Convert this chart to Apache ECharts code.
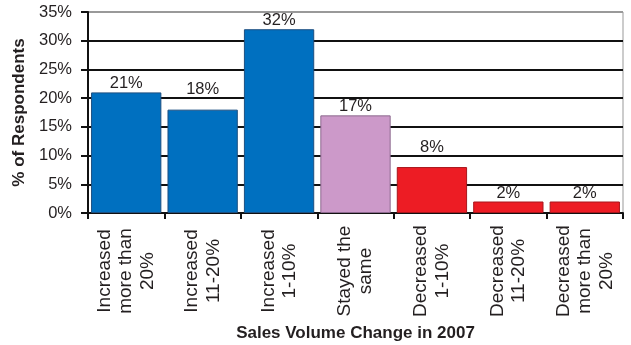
<!DOCTYPE html>
<html>
<head>
<meta charset="utf-8">
<script src="https://cdn.jsdelivr.net/npm/echarts@6/dist/echarts.min.js"></script>
<style>
  html, body { margin: 0; padding: 0; background: #fff; }
  #chart { width: 631px; height: 345px; }
</style>
</head>
<body>
<div id="chart"></div>
<script>
// Survey responses: change in sales volume over 2007
const categories = [
  'Increased\nmore than\n20%',
  'Increased\n11-20%',
  'Increased\n1-10%',
  'Stayed the\nsame',
  'Decreased\n1-10%',
  'Decreased\n11-20%',
  'Decreased\nmore than\n20%'
];
const respondentShare = [21, 18, 32, 17, 8, 2, 2];
// Bar groups: increases, no change, decreases
const barGroup = ['up', 'up', 'up', 'same', 'down', 'down', 'down'];

const groupStyle = {
  up:   { color: '#0070c0', borderColor: '#1d4f80' },
  same: { color: '#cc99c9', borderColor: '#8d6a8f' },
  down: { color: '#ed1c24', borderColor: '#a8161c' }
};

// Value labels that would sit on a gridline are lifted clear of it
const labelLift = { 1: 12, 4: 11 };

const FONT = 'Liberation Sans, Arial, sans-serif';

const chart = echarts.init(document.getElementById('chart'), null, { renderer: 'canvas' });

chart.setOption({
  animation: false,
  backgroundColor: '#fff',
  textStyle: { fontFamily: FONT },
  grid: {
    left: 88, right: 8, top: 12, bottom: 132,
    outerBoundsMode: 'none',
    containLabel: false,
    show: true, borderColor: '#999', borderWidth: 1
  },
  xAxis: {
    type: 'category',
    data: categories,
    name: 'Sales Volume Change in 2007',
    nameLocation: 'middle',
    nameGap: 104,
    nameTextStyle: { fontFamily: FONT, fontSize: 17, fontWeight: 'bold', color: '#231f20' },
    axisLine: { lineStyle: { color: '#111', width: 2 } },
    axisTick: { show: true, length: 6, lineStyle: { color: '#111', width: 2 } },
    axisLabel: {
      interval: 0,
      rotate: 90,
      margin: 14,
      formatter: v => v.split('\n').map(s => '{c|' + s + '}').join('\n'),
      rich: {
        c: { fontFamily: FONT, fontSize: 19, color: '#231f20', width: 88, align: 'center', lineHeight: 21.5 }
      }
    }
  },
  yAxis: {
    type: 'value',
    min: 0,
    max: 35,
    interval: 5,
    name: '% of Respondents',
    nameLocation: 'middle',
    nameGap: 54,
    nameTextStyle: { fontFamily: FONT, fontSize: 17, fontWeight: 'bold', color: '#231f20' },
    axisLine: { show: true, lineStyle: { color: '#111', width: 2 } },
    axisTick: { show: true, length: 7, lineStyle: { color: '#111', width: 2 } },
    axisLabel: {
      margin: 16,
      fontFamily: FONT,
      fontSize: 16.5,
      color: '#231f20',
      formatter: v => v + '%'
    },
    splitLine: {
      show: true,
      lineStyle: {
        width: 2,
        color: ['#111', '#111', '#111', '#111', '#111', '#111', '#111', '#999']
      }
    }
  },
  series: [{
    type: 'bar',
    barCategoryGap: '8%',
    data: respondentShare.map((v, i) => ({
      value: v,
      itemStyle: {
        color: groupStyle[barGroup[i]].color,
        borderColor: groupStyle[barGroup[i]].borderColor,
        borderWidth: 1
      },
      label: { offset: [0, -(labelLift[i] || 0)] }
    })),
    label: {
      show: true,
      position: 'top',
      distance: 0,
      fontFamily: FONT,
      fontSize: 16.5,
      color: '#231f20',
      formatter: p => p.value + '%'
    }
  }]
});
</script>
</body>
</html>
